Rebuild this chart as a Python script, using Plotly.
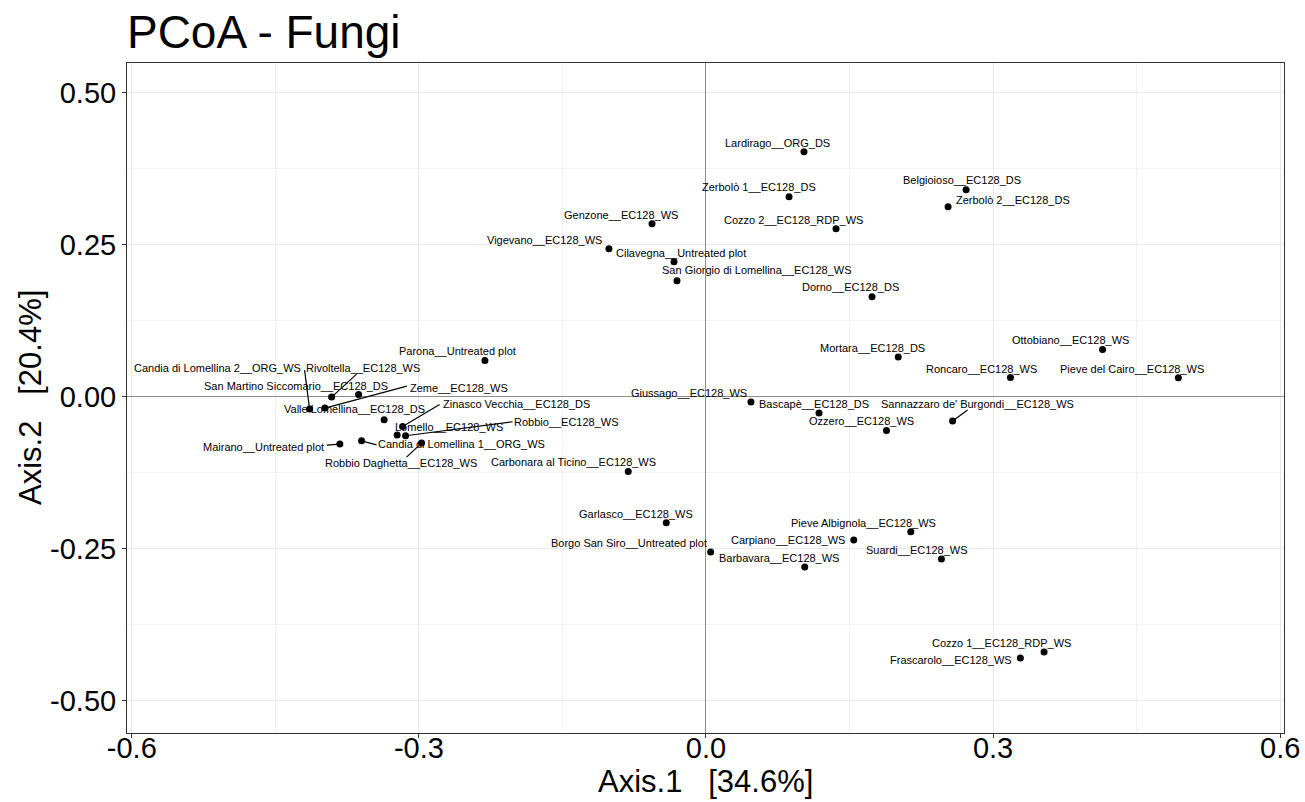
import plotly.graph_objects as go

# Site / treatment labels and their PCoA coordinates (fungal community)
samples = [
    "Lardirago__ORG_DS", "Zerbolò 1__EC128_DS", "Belgioioso__EC128_DS", "Zerbolò 2__EC128_DS",
    "Genzone__EC128_WS", "Cozzo 2__EC128_RDP_WS", "Vigevano__EC128_WS", "Cilavegna__Untreated plot",
    "San Giorgio di Lomellina__EC128_WS", "Dorno__EC128_DS", "Ottobiano__EC128_WS", "Mortara__EC128_DS",
    "Roncaro__EC128_WS", "Pieve del Cairo__EC128_WS", "Parona__Untreated plot",
    "Candia di Lomellina 2__ORG_WS", "Rivoltella__EC128_WS", "San Martino Siccomario__EC128_DS",
    "Zeme__EC128_WS", "Valle Lomellina__EC128_DS", "Zinasco Vecchia__EC128_DS", "Lomello__EC128_WS",
    "Robbio__EC128_WS", "Mairano__Untreated plot", "Candia di Lomellina 1__ORG_WS",
    "Robbio Daghetta__EC128_WS", "Carbonara al Ticino__EC128_WS", "Giussago__EC128_WS",
    "Bascapè__EC128_DS", "Sannazzaro de' Burgondi__EC128_WS", "Ozzero__EC128_WS", "Garlasco__EC128_WS",
    "Borgo San Siro__Untreated plot", "Pieve Albignola__EC128_WS", "Carpiano__EC128_WS",
    "Suardi__EC128_WS", "Barbavara__EC128_WS", "Cozzo 1__EC128_RDP_WS", "Frascarolo__EC128_WS",
]
axis1 = [
    0.1024, 0.0868, 0.2718, 0.2530,
    -0.0564, 0.1359, -0.1014, -0.0334,
    -0.0303, 0.1735, 0.4144, 0.2009,
    0.3182, 0.4936, -0.2310,
    -0.4142, -0.3912, -0.3630,
    -0.3982, -0.3363, -0.3170, -0.3227,
    -0.3139, -0.3826, -0.3599,
    -0.2972, -0.0812, 0.0470,
    0.1181, 0.2577, 0.1886, -0.0415,
    0.0049, 0.2140, 0.1544,
    0.2460, 0.1032, 0.3533, 0.3285,
]
axis2 = [
    0.4030, 0.3290, 0.3405, 0.3125,
    0.2845, 0.2763, 0.2434, 0.2220,
    0.1908, 0.1645, 0.0778, 0.0653,
    0.0317, 0.0313, 0.0597,
    -0.0202, -0.0005, 0.0038,
    -0.0186, -0.0378, -0.0488, -0.0630,
    -0.0641, -0.0778, -0.0724,
    -0.0762, -0.1229, -0.0087,
    -0.0268, -0.0400, -0.0554, -0.2072,
    -0.2554, -0.2220, -0.2357,
    -0.2669, -0.2801, -0.4199, -0.4298,
]

x_ticks = [-0.6, -0.3, 0.0, 0.3, 0.6]
x_ticktext = ["-0.6", "-0.3", "0.0", "0.3", "0.6"]
y_ticks = [-0.50, -0.25, 0.00, 0.25, 0.50]
y_ticktext = ["-0.50", "-0.25", "0.00", "0.25", "0.50"]

# Repelled label placement: (dx, dy) in screen pixels from the point to the
# label centre (dy positive = downward).
label_offsets = {
    "Lardirago__ORG_DS": (-26, -9),
    "Zerbolò 1__EC128_DS": (-30, -10),
    "Belgioioso__EC128_DS": (-4, -10),
    "Zerbolò 2__EC128_DS": (65, -7),
    "Genzone__EC128_WS": (-31, -9),
    "Cozzo 2__EC128_RDP_WS": (-43, -9),
    "Vigevano__EC128_WS": (-64, -9),
    "Cilavegna__Untreated plot": (7, -9),
    "San Giorgio di Lomellina__EC128_WS": (80, -11),
    "Dorno__EC128_DS": (-22, -10),
    "Ottobiano__EC128_WS": (-32, -9),
    "Mortara__EC128_DS": (-26, -9),
    "Roncaro__EC128_WS": (-29, -9),
    "Pieve del Cairo__EC128_WS": (-46, -9),
    "Parona__Untreated plot": (-27, -9),
    "Candia di Lomellina 2__ORG_WS": (-92, -41),
    "Rivoltella__EC128_WS": (31, -29),
    "San Martino Siccomario__EC128_DS": (-63, -8),
    "Zeme__EC128_WS": (134, -20),
    "Valle Lomellina__EC128_DS": (-30, -11),
    "Zinasco Vecchia__EC128_DS": (114, -22),
    "Lomello__EC128_WS": (52, -8),
    "Robbio__EC128_WS": (161, -14),
    "Mairano__Untreated plot": (-76, 3),
    "Candia di Lomellina 1__ORG_WS": (100, 3),
    "Robbio Daghetta__EC128_WS": (-21, 20),
    "Carbonara al Ticino__EC128_WS": (-55, -10),
    "Giussago__EC128_WS": (-62, -9),
    "Bascapè__EC128_DS": (-5, -9),
    "Sannazzaro de' Burgondi__EC128_WS": (25, -17),
    "Ozzero__EC128_WS": (-25, -9),
    "Garlasco__EC128_WS": (-30, -9),
    "Borgo San Siro__Untreated plot": (-82, -9),
    "Pieve Albignola__EC128_WS": (-47, -9),
    "Carpiano__EC128_WS": (-66, 0),
    "Suardi__EC128_WS": (-24, -9),
    "Barbavara__EC128_WS": (-26, -9),
    "Cozzo 1__EC128_RDP_WS": (-43, -9),
    "Frascarolo__EC128_WS": (-69, 2),
}

# Leader segments for displaced labels: end point (px, dy positive = downward)
# relative to the point, touching the label box.
leader_ends = {
    "Candia di Lomellina 2__ORG_WS": (-5, -39),
    "Rivoltella__EC128_WS": (25, -23),
    "Zeme__EC128_WS": (82, -22),
    "Zinasco Vecchia__EC128_DS": (37, -22),
    "Robbio__EC128_WS": (107, -14),
    "Mairano__Untreated plot": (-13, 1),
    "Candia di Lomellina 1__ORG_WS": (15, 4),
    "Robbio Daghetta__EC128_WS": (-15, 14),
    "Sannazzaro de' Burgondi__EC128_WS": (15, -11),
}

FONT = "Liberation Sans, Arial, sans-serif"

fig = go.Figure()
fig.add_trace(go.Scatter(
    x=axis1, y=axis2, mode="markers",
    marker=dict(color="black", size=7, line=dict(width=0)),
    hovertext=samples, hoverinfo="text", showlegend=False,
))

annotations = []
shapes = []
for name, xv, yv in zip(samples, axis1, axis2):
    dx, dy = label_offsets[name]
    annotations.append(dict(x=xv, y=yv, xref="x", yref="y", text=name, showarrow=False,
                            xshift=dx, yshift=-dy,
                            font=dict(family=FONT, size=11, color="black")))
    if name in leader_ends:
        ex, ey = leader_ends[name]
        shapes.append(dict(type="line", xref="x", yref="y",
                           xsizemode="pixel", ysizemode="pixel",
                           xanchor=xv, yanchor=yv, x0=0, y0=0, x1=ex, y1=-ey,
                           line=dict(color="black", width=1.2), layer="above"))

# Axis titles
annotations.append(dict(text="Axis.1   [34.6%]", x=0.5, y=0, xref="paper", yref="paper",
                        yshift=-48, xanchor="center", yanchor="middle", showarrow=False,
                        font=dict(family=FONT, size=31, color="black")))
annotations.append(dict(text="Axis.2   [20.4%]", x=0, y=0.5, xref="paper", yref="paper",
                        xshift=-97, xanchor="center", yanchor="middle", textangle=-90,
                        showarrow=False, font=dict(family=FONT, size=31, color="black")))

axis_common = dict(
    showline=True, mirror=True, linecolor="#333333", linewidth=1,
    ticks="outside", ticklen=4, tickcolor="#333333", tickwidth=1,
    showgrid=True, gridcolor="#e8e8e8", gridwidth=1,
    zeroline=True, zerolinecolor="#8c8c8c", zerolinewidth=1,
    tickfont=dict(family=FONT, size=29, color="black"),
    automargin=False,
)

fig.update_layout(
    width=1305, height=802,
    margin=dict(l=127, r=21, t=63, b=69),
    paper_bgcolor="white", plot_bgcolor="white",
    title=dict(text="PCoA - Fungi", x=0.0973, xref="container", xanchor="left",
               y=1 - 32 / 802, yref="container", yanchor="middle",
               font=dict(family=FONT, size=46, color="black")),
    xaxis=dict(axis_common, range=[-0.605, 0.604], tickvals=x_ticks, ticktext=x_ticktext,
               ticklabelstandoff=-15,
               minor=dict(showgrid=True, gridcolor="#f2f2f2", gridwidth=0.6,
                          tickvals=[-0.45, -0.15, 0.15, 0.45])),
    yaxis=dict(axis_common, range=[-0.553, 0.549], tickvals=y_ticks, ticktext=y_ticktext,
               minor=dict(showgrid=True, gridcolor="#f2f2f2", gridwidth=0.6,
                          tickvals=[-0.375, -0.125, 0.125, 0.375])),
    annotations=annotations,
    shapes=shapes,
    hovermode="closest",
)

fig.write_html("out.html")
